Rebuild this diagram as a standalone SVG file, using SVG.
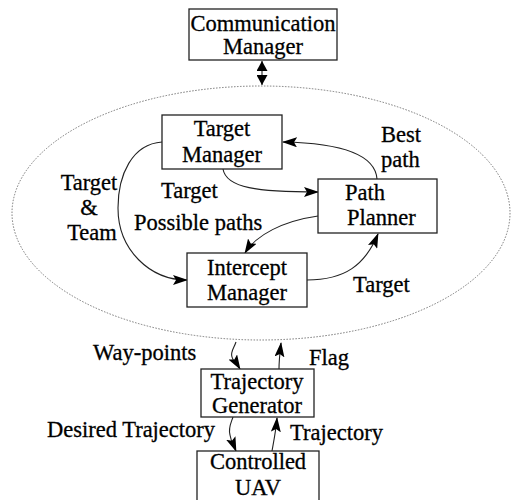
<svg xmlns="http://www.w3.org/2000/svg" width="511" height="500" viewBox="0 0 511 500">
<style>
.box{fill:#fff;stroke:#222;stroke-width:1.3}
.t{font-family:'Liberation Serif','Tinos','Times New Roman','DejaVu Serif',serif;font-size:22.5px;fill:#000;stroke:#000;stroke-width:0.3}
.c{text-anchor:middle}
.ln{fill:none;stroke:#222;stroke-width:1.1}
</style>
<defs>
<marker id="ah" markerWidth="15" markerHeight="10" refX="14" refY="5" orient="auto" markerUnits="userSpaceOnUse">
<path d="M0,0 L15,5 L0,10 L3,5 Z" fill="#000"/>
</marker>
<marker id="bh" markerWidth="10" markerHeight="11" refX="10" refY="5.5" orient="auto-start-reverse" markerUnits="userSpaceOnUse">
<path d="M0,0 L10,5.5 L0,11 Z" fill="#000"/>
</marker>
</defs>
<rect width="511" height="500" fill="#fff"/>
<ellipse cx="261" cy="213" rx="249" ry="127" fill="none" stroke="#777" stroke-width="1" stroke-dasharray="1.5,1.5"/>
<g id="connectors">
<path class="ln" d="M262,61 L262,85" stroke-width="1.6" marker-start="url(#bh)" marker-end="url(#bh)"/>
<path class="ln" d="M377,179 C375,152 335,143 283,142" marker-end="url(#ah)"/>
<path class="ln" d="M223,169 C226,188 258,192 318,192" marker-end="url(#ah)"/>
<path class="ln" d="M318,216 C283,221 256,235 245,253" marker-end="url(#ah)"/>
<path class="ln" d="M162,142 C132,144 118,175 118,208 C118,250 150,280 187,280" marker-end="url(#ah)"/>
<path class="ln" d="M307,280 C345,280 365,265 378,234" marker-end="url(#ah)"/>
<path class="ln" d="M236,342 C234,348 230,352 232,357 C233,362 237,364 240,369" marker-end="url(#ah)"/>
<path class="ln" d="M279,369 C279,360 280,352 281,343" marker-end="url(#ah)"/>
<path class="ln" d="M233,417 C231,423 228,428 230,435 C231,442 234,446 236,451" marker-end="url(#ah)"/>
<path class="ln" d="M272,451 C274,440 276,430 277,418" marker-end="url(#ah)"/>
</g>
<g id="comm-manager">
<rect class="box" x="189" y="9" width="148" height="51"/>
<text class="t c" x="263" y="31">Communication</text>
<text class="t c" x="263" y="54">Manager</text>
</g>
<g id="target-manager">
<rect class="box" x="162" y="115" width="120" height="54"/>
<text class="t c" x="222" y="136">Target</text>
<text class="t c" x="222" y="162">Manager</text>
</g>
<g id="path-planner">
<rect class="box" x="318" y="179" width="119" height="54"/>
<text class="t" x="345" y="200">Path</text>
<text class="t" x="347" y="225">Planner</text>
</g>
<g id="intercept-manager">
<rect class="box" x="187" y="253" width="120" height="54"/>
<text class="t c" x="247" y="275">Intercept</text>
<text class="t c" x="247" y="300">Manager</text>
</g>
<g id="trajectory-generator">
<rect class="box" x="201" y="369" width="113" height="48"/>
<text class="t c" x="257" y="389">Trajectory</text>
<text class="t c" x="257" y="413">Generator</text>
</g>
<g id="controlled-uav">
<rect class="box" x="197" y="451" width="122" height="60"/>
<text class="t c" x="258" y="469">Controlled</text>
<text class="t c" x="258" y="495">UAV</text>
</g>
<g id="labels">
<text class="t" x="381" y="142">Best</text>
<text class="t" x="381" y="167">path</text>
<text class="t" x="161" y="198">Target</text>
<text class="t" x="134" y="230">Possible paths</text>
<text class="t c" x="89" y="190">Target</text>
<text class="t c" x="89" y="215">&amp;</text>
<text class="t c" x="92" y="240">Team</text>
<text class="t" x="353" y="292">Target</text>
<text class="t" x="93" y="360">Way-points</text>
<text class="t" x="309" y="365">Flag</text>
<text class="t" x="47" y="437">Desired Trajectory</text>
<text class="t" x="290" y="440">Trajectory</text>
</g>
</svg>
